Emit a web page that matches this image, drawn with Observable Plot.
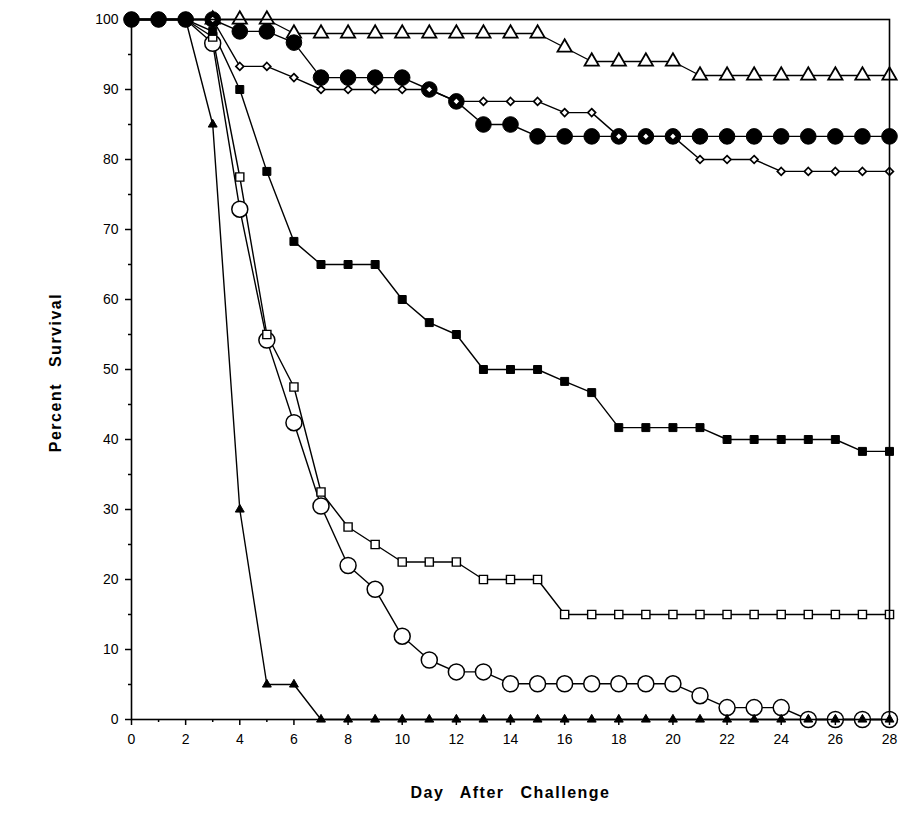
<!DOCTYPE html>
<html>
<head>
<meta charset="utf-8">
<script src="https://cdn.jsdelivr.net/npm/d3@7"></script>
<script src="https://cdn.jsdelivr.net/npm/@observablehq/plot@0.6"></script>
<style>
  html, body { margin: 0; padding: 0; background: white; }
</style>
</head>
<body>
<div id="chart"></div>
<script>
// ---- data ----
const days = d3.range(0, 29);
const xTickLabels = d3.range(0, 29, 2);
const yTickLabels = d3.range(0, 101, 10);
const xTitle = "Day After Challenge";
const yTitle = "Percent Survival";

const openTriangle  = [100,100,100,100,100,100,98,98,98,98,98,98,98,98,98,98,96,94,94,94,94,92,92,92,92,92,92,92,92];
const filledCircle  = [100,100,100,100,98.3,98.3,96.7,91.7,91.7,91.7,91.7,90,88.3,85,85,83.3,83.3,83.3,83.3,83.3,83.3,83.3,83.3,83.3,83.3,83.3,83.3,83.3,83.3];
const openDiamond   = [100,100,100,100,93.3,93.3,91.7,90,90,90,90,90,88.3,88.3,88.3,88.3,86.7,86.7,83.3,83.3,83.3,80,80,80,78.3,78.3,78.3,78.3,78.3];
const filledSquare  = [100,100,100,98.3,90,78.3,68.3,65,65,65,60,56.7,55,50,50,50,48.3,46.7,41.7,41.7,41.7,41.7,40,40,40,40,40,38.3,38.3];
const openSquare    = [100,100,100,97.5,77.5,55,47.5,32.5,27.5,25,22.5,22.5,22.5,20,20,20,15,15,15,15,15,15,15,15,15,15,15,15,15];
const openCircle    = [100,100,100,96.6,72.9,54.2,42.4,30.5,22.0,18.6,11.9,8.5,6.8,6.8,5.1,5.1,5.1,5.1,5.1,5.1,5.1,3.4,1.7,1.7,1.7,0,0,0,0];
const filledTriangle= [100,100,100,85,30,5,5,0,0,0,0,0,0,0,0,0,0,0,0,0,0,0,0,0,0,0,0,0,0];

const seriesList = [
  {name: "openCircle", values: openCircle, symbol: "circle", r: 8, fill: "white", stroke: "black", sw: 1.5},
  {name: "openSquare", values: openSquare, symbol: "square", r: 4.6, fill: "white", stroke: "black", sw: 1.4},
  {name: "filledSquare", values: filledSquare, symbol: "square", r: 4.5, fill: "black", stroke: "black", sw: 1},
  {name: "openTriangle", values: openTriangle, symbol: "triangle", r: 5.3, fill: "white", stroke: "black", sw: 1.8},
  {name: "filledCircle", values: filledCircle, symbol: "circle", r: 7.8, fill: "black", stroke: "black", sw: 1},
  {name: "openDiamond", values: openDiamond, symbol: "diamond2", r: 3.5, fill: "white", stroke: "black", sw: 1.7},
  {name: "filledTriangle", values: filledTriangle, symbol: "triangle", r: 3.3, fill: "black", stroke: "black", sw: 1}
];

const data = seriesList.flatMap(s => days.map((d, i) => ({series: s.name, day: d, value: s.values[i]})));

const dotMarks = seriesList.map(s =>
  Plot.dot(data.filter(d => d.series === s.name && (s.name === "filledCircle" || d.day >= 3)), {
    x: "day", y: "value", symbol: () => s.symbol, r: s.r,
    fill: s.fill, stroke: s.stroke, strokeWidth: s.sw
  })
);

const chart = Plot.plot({
  width: 899,
  height: 822,
  marginLeft: 131,
  marginRight: 10,
  marginTop: 19,
  marginBottom: 103,
  x: {domain: [0, 28]},
  y: {domain: [0, 100]},
  style: {fontFamily: "'Liberation Sans', Arial, sans-serif", fontSize: "14px", color: "black", background: "white"},
  marks: [
    Plot.line(data, {x: "day", y: "value", z: "series", stroke: "black", strokeWidth: 1.4}),
    ...dotMarks,
    Plot.dot(data.filter(d => d.series === "filledCircle" && d.day <= 2), {x: "day", y: "value", r: 7.8, fill: "black"}),
    Plot.frame({stroke: "black", strokeWidth: 1.6}),
    Plot.axisX(xTickLabels, {tickSize: 6, tickPadding: 9, fontSize: 14, label: null, stroke: "black", strokeWidth: 1.5}),
    Plot.axisX(d3.range(1, 29, 2), {tickSize: 3, text: null, label: null, stroke: "black", strokeWidth: 1.5}),
    Plot.axisY(yTickLabels, {tickSize: 6, tickPadding: 7, fontSize: 14, label: null, stroke: "black", strokeWidth: 1.5}),
    Plot.axisY(d3.range(5, 100, 10), {tickSize: 3, text: null, label: null, stroke: "black", strokeWidth: 1.5}),
    Plot.text([xTitle], {frameAnchor: "bottom", dy: 78, fontSize: 16, fontWeight: "bold", textAnchor: "middle"}),
    Plot.text([yTitle], {frameAnchor: "left", dx: -76, dy: 3, rotate: -90, fontSize: 16, fontWeight: "bold", textAnchor: "middle"})
  ]
});

d3.select(chart).selectAll("text")
  .filter(function() { return this.textContent === xTitle || this.textContent === yTitle; })
  .style("letter-spacing", "1.5px").style("word-spacing", "10px");

document.getElementById("chart").appendChild(chart);
</script>
</body>
</html>
